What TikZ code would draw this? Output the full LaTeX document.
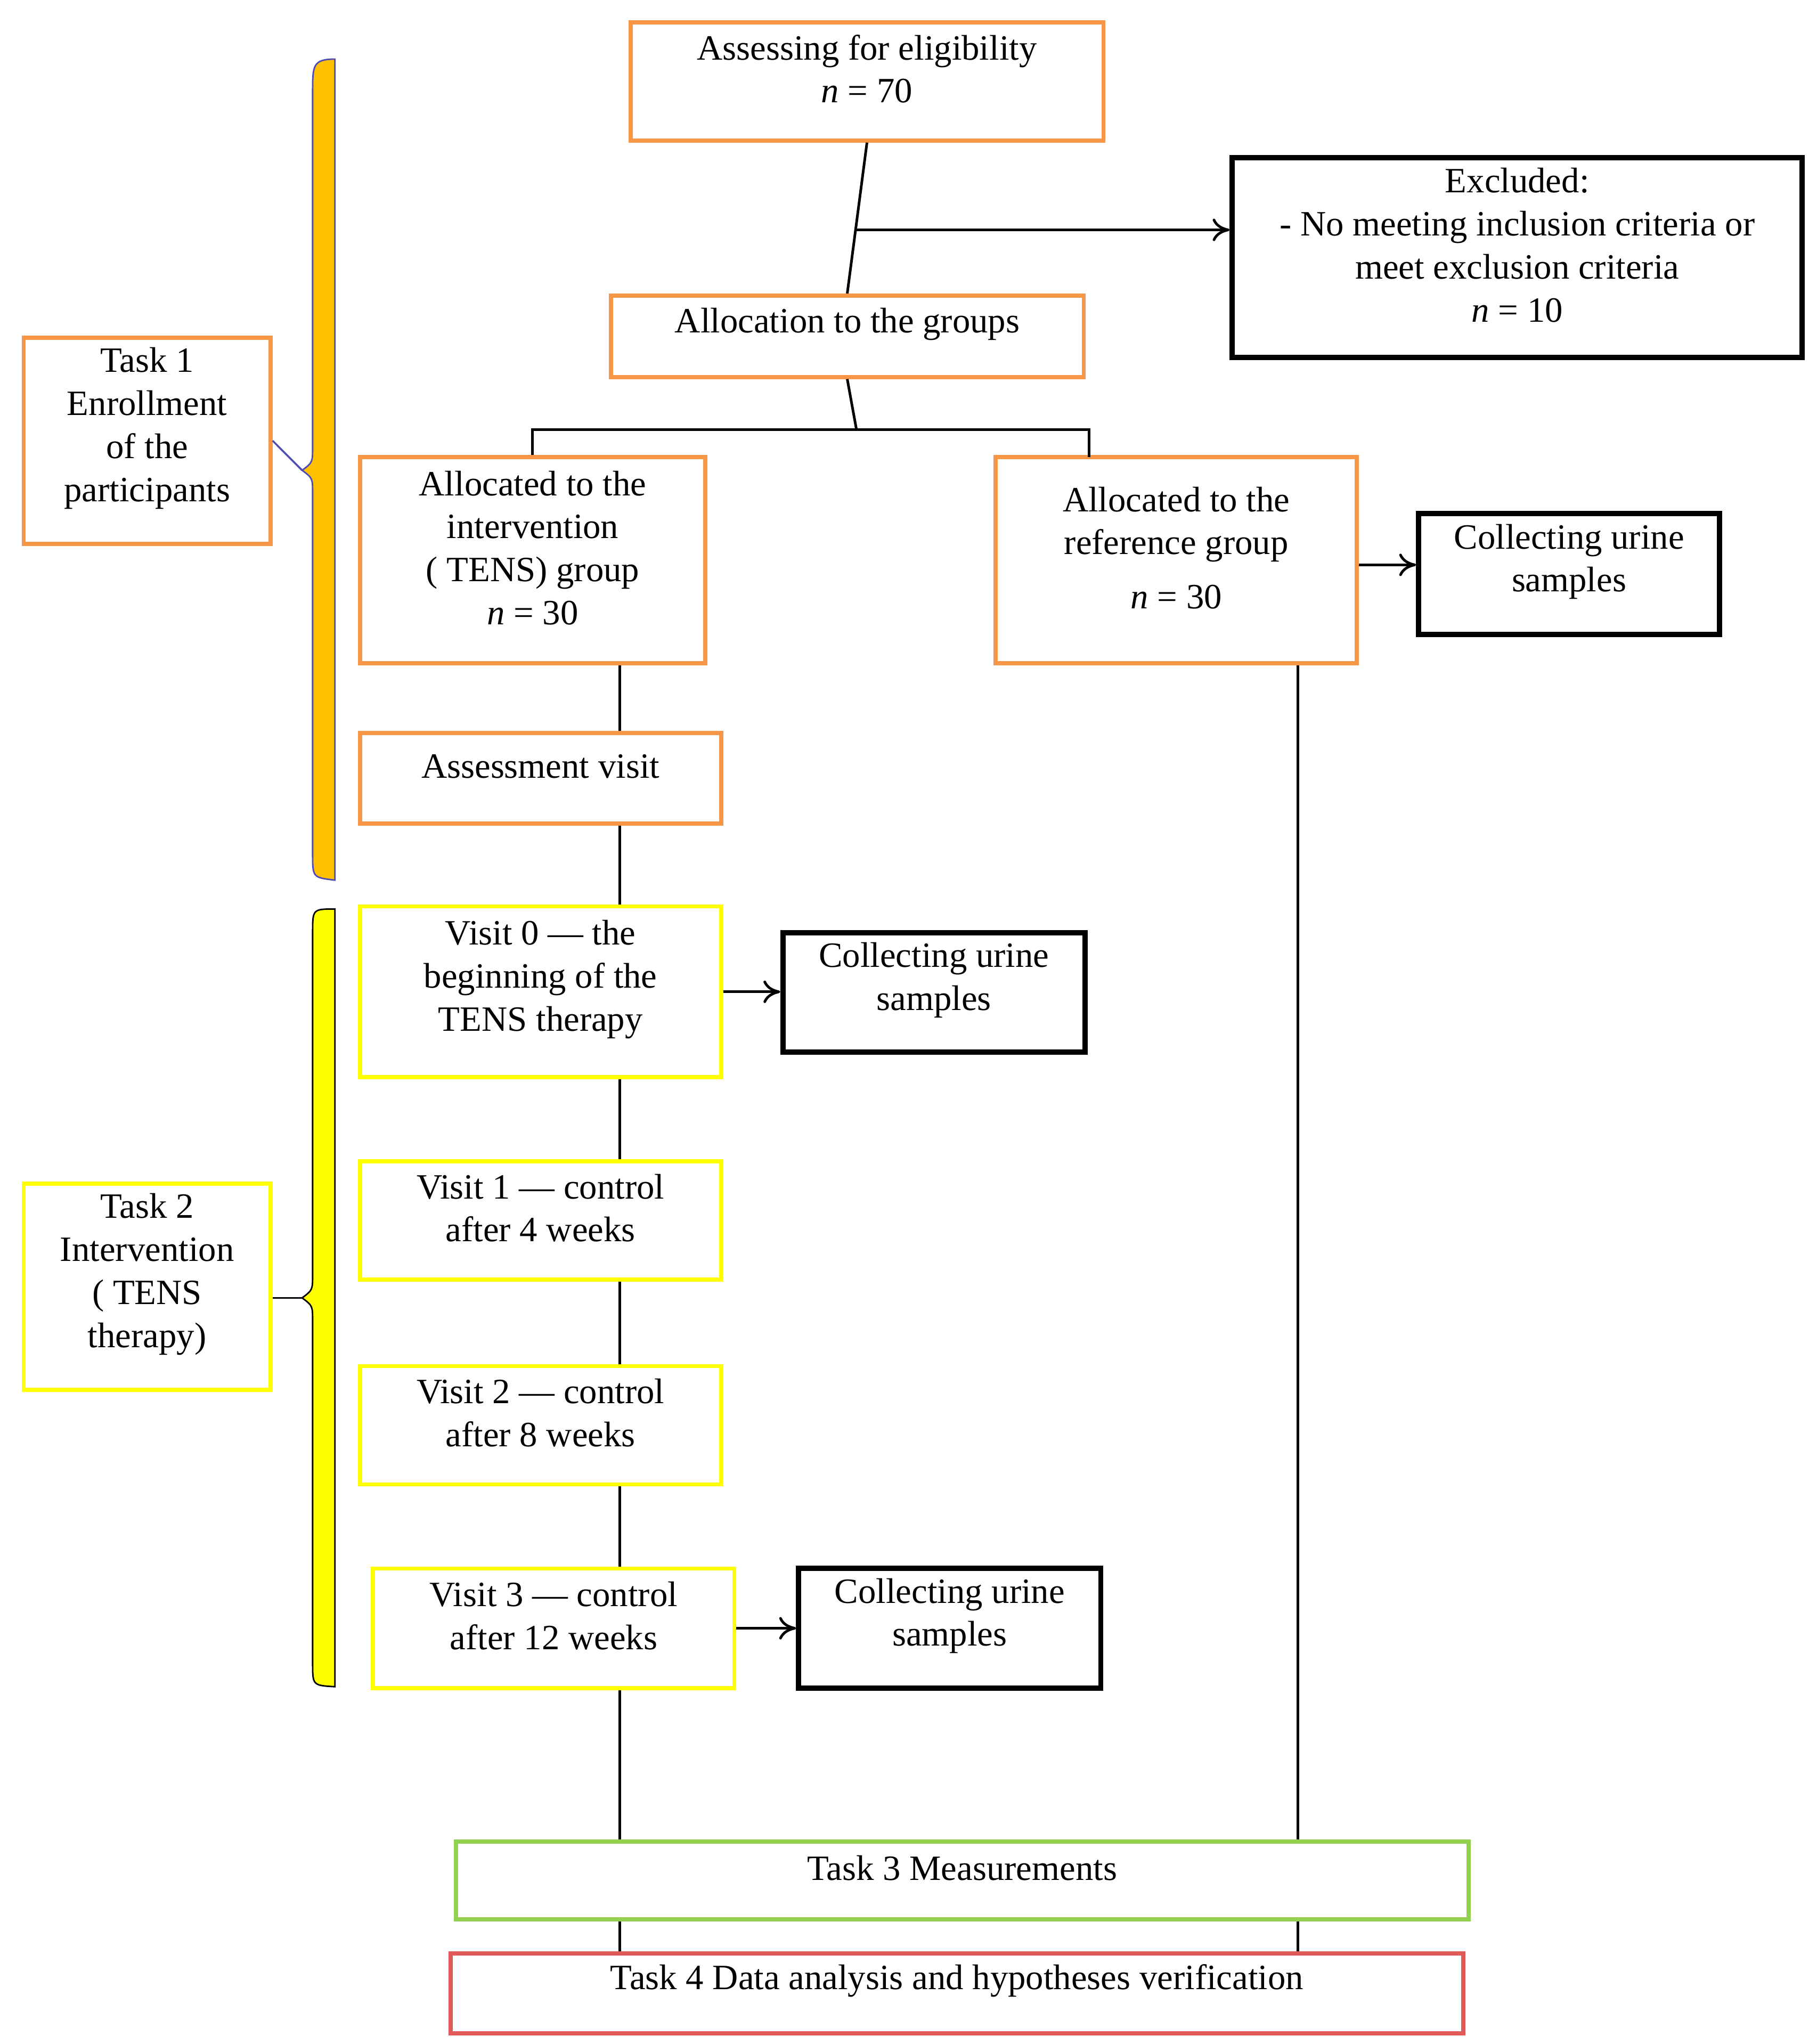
\documentclass[tikz,border=0pt]{standalone}
\usepackage{fontspec}
\setmainfont{Liberation Serif}
\usetikzlibrary{fit,arrows.meta}
\definecolor{ob}{HTML}{F79646}
\definecolor{obar}{HTML}{FFC000}
\definecolor{yb}{HTML}{FFFF00}
\definecolor{gb}{HTML}{92D050}
\definecolor{rb}{HTML}{E05A5A}
\begin{document}
\begin{tikzpicture}[x=0.02466cm,y=-0.02466cm,
  bx/.style={draw=#1,line width=2.2pt,fill=white,inner sep=0pt,align=center,font=\fontsize{19}{23}\selectfont},
  kb/.style={draw=black,line width=2.8pt,fill=white,inner sep=0pt,align=center,font=\fontsize{19}{23}\selectfont},
  ln/.style={line width=1.4pt},
  ar/.style={line width=1.4pt,-{To[length=9pt,width=12pt]}}]
\useasboundingbox (0,0) rectangle (1383,1556);
% lines behind
\draw[ln] (472,505) -- (472,1487);
\draw[ln] (988,505) -- (988,1487);
% bars
\fill[obar,draw=gray!60!blue,line width=0.8pt] (255,45) .. controls (238,45) and (238,50) .. (238,70) -- (238,340) .. controls (238,352) .. (230,358) .. controls (238,364) .. (238,376) -- (238,650) .. controls (238,668) .. (255,670) -- cycle;
\fill[yb,draw=black,line width=0.8pt] (255,692) .. controls (238,692) .. (238,710) -- (238,970) .. controls (238,982) .. (230,988) .. controls (238,994) .. (238,1006) -- (238,1266) .. controls (238,1283) .. (255,1284) -- cycle;
\node[bx=ob,fit={(480,17)(840,107)}] (a) {Assessing for eligibility\\\textit{n} = 70};
\node[kb,fit={(938,120)(1372,272)}] (ex) {Excluded:\\- No meeting inclusion criteria or\\meet exclusion criteria\\\textit{n} = 10};
\node[bx=ob,fit={(465,225)(825,287)}] (al) {Allocation to the groups};
\node[bx=ob,fit={(274,348)(537,505)}] (iv) {Allocated to the\\intervention\\( TENS) group\\\textit{n} = 30};
\node[bx=ob,fit={(758,348)(1033,505)}] (rf) {Allocated to the\\reference group\\[6pt]\textit{n} = 30};
\node[kb,fit={(1080,391)(1309,483)}] (c1) {Collecting urine\\samples};
\node[bx=ob,fit={(274,558)(549,627)}] (av) {Assessment visit};
\node[bx=yb,fit={(274,690)(549,820)}] (v0) {Visit 0 — the\\beginning of the\\TENS therapy};
\node[kb,fit={(596,710)(826,801)}] (c2) {Collecting urine\\samples};
\node[bx=yb,fit={(274,884)(549,974)}] (v1) {Visit 1 — control\\after 4 weeks};
\node[bx=yb,fit={(274,1040)(549,1130)}] (v2) {Visit 2 — control\\after 8 weeks};
\node[bx=yb,fit={(284,1194)(559,1285)}] (v3) {Visit 3 — control\\after 12 weeks};
\node[kb,fit={(608,1194)(838,1285)}] (c3) {Collecting urine\\samples};
\node[bx=gb,fit={(347,1402)(1118,1461)}] (t3) {Task 3 Measurements};
\node[bx=rb,fit={(343,1487)(1114,1548)}] (t4) {Task 4 Data analysis and hypotheses verification};
\node[bx=ob,fit={(18,257)(206,414)}] (t1) {Task 1\\Enrollment\\of the\\participants};
\node[bx=yb,fit={(18,901)(206,1058)}] (t2) {Task 2\\Intervention\\( TENS\\therapy)};
\coordinate (j1) at (652,175);
\coordinate (j2) at (652,327);
\draw[ln] (a.south) -- (al.north);
\draw[ar] (j1) -- (ex.west|-j1);
\draw[ln] (al.south) -- (j2);
\draw[ln] (iv.north) |- (j2) -| (829,348);
\draw[ar] (rf.east|-1,430) -- (c1.west|-1,430);
\draw[ar] (v0.east|-1,755) -- (c2.west|-1,755);
\draw[ar] (v3) -- (c3);
\draw[line width=1pt,gray!60!blue] (t1.east) -- (230,358);
\draw[line width=1pt] (t2.east|-1,988) -- (230,988);
\end{tikzpicture}
\end{document}
